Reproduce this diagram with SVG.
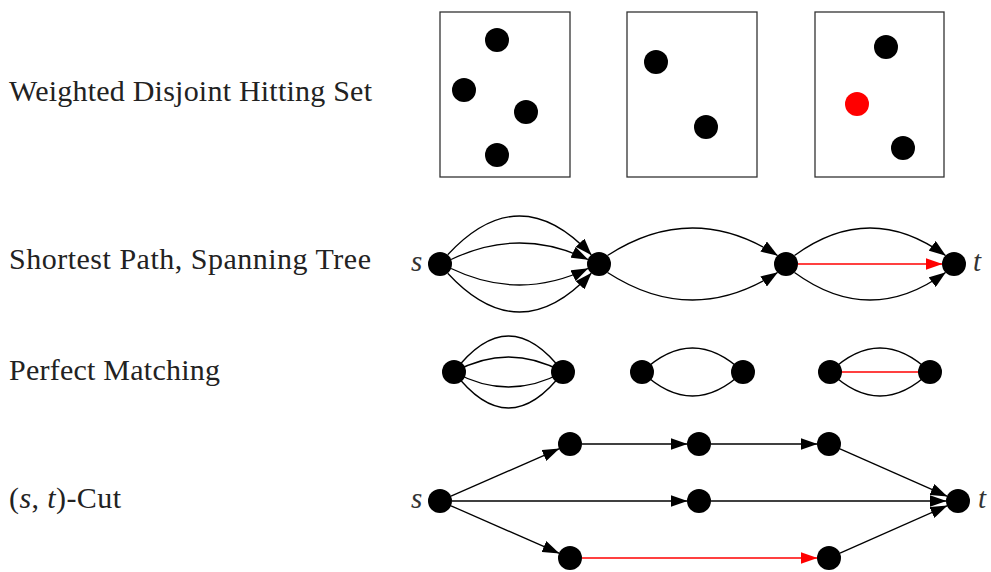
<svg xmlns="http://www.w3.org/2000/svg" width="991" height="572" viewBox="0 0 991 572">
<defs>
<style>
.lbl{font-family:"Liberation Serif","Times New Roman",serif;font-size:30px;fill:#222}
.var{font-family:"Liberation Serif","Times New Roman",serif;font-size:29px;font-style:italic;fill:#333}
.box{fill:#fff;stroke:#333;stroke-width:1.3}
.e{fill:none;stroke:#000;stroke-width:1.3}
.ea{fill:none;stroke:#000;stroke-width:1.3;marker-end:url(#ah)}
.er{fill:none;stroke:#f00;stroke-width:1.3}
.era{fill:none;stroke:#f00;stroke-width:1.3;marker-end:url(#ahr)}
.n{fill:#000}
</style>
<marker id="ah" viewBox="0 0 17 12" refX="16.5" refY="6" markerWidth="17" markerHeight="12" markerUnits="userSpaceOnUse" orient="auto"><path d="M0,0 L17,6 L0,12 z" fill="#000"/></marker>
<marker id="ahr" viewBox="0 0 17 12" refX="16.5" refY="6" markerWidth="17" markerHeight="12" markerUnits="userSpaceOnUse" orient="auto"><path d="M0,0 L17,6 L0,12 z" fill="#f00"/></marker>
</defs>
<rect width="991" height="572" fill="#fff"/>

<g id="labels">
<text class="lbl" x="9" y="101" textLength="363">Weighted Disjoint Hitting Set</text>
<text class="lbl" x="9" y="269" textLength="362">Shortest Path, Spanning Tree</text>
<text class="lbl" x="9" y="380" textLength="211">Perfect Matching</text>
<text class="lbl" x="9" y="508" textLength="112">(<tspan font-style="italic">s</tspan>, <tspan font-style="italic">t</tspan>)-Cut</text>
</g>

<g id="hitting-set">
<g id="set1"><rect class="box" x="440" y="12" width="130" height="165"/>
<circle class="n" cx="497" cy="40" r="12"/><circle class="n" cx="464" cy="90" r="12"/><circle class="n" cx="526" cy="112" r="12"/><circle class="n" cx="497" cy="155" r="12"/></g>
<g id="set2"><rect class="box" x="627" y="12" width="130" height="165"/>
<circle class="n" cx="656" cy="62" r="12"/><circle class="n" cx="706" cy="127" r="12"/></g>
<g id="set3"><rect class="box" x="815" y="12" width="129" height="165"/>
<circle class="n" cx="886" cy="47" r="12"/><circle cx="857" cy="104" r="12" fill="#f00"/><circle class="n" cx="903" cy="148" r="12"/></g>
</g>

<g id="connectors">
<!-- shortest path -->
<path class="ea" d="M447.7,254.8 Q519.5,177.2 591.3,254.8"/>
<path class="ea" d="M451.1,259.5 Q519.5,226.5 587.9,259.5"/>
<path class="ea" d="M451.1,268.5 Q519.5,301.5 587.9,268.5"/>
<path class="ea" d="M447.7,273.2 Q519.5,350.8 591.3,273.2"/>
<path class="ea" d="M607.5,255.5 Q692.5,200.5 777.5,255.5"/>
<path class="ea" d="M607.5,272.5 Q692.5,327.5 777.5,272.5"/>
<path class="ea" d="M794.5,255.5 Q870,200.5 945.5,255.5"/>
<path class="ea" d="M794.5,272.5 Q870,327.5 945.5,272.5"/>
<path class="era" d="M798,264 L942,264"/>
<!-- matching -->
<path class="e" d="M454,372 Q508.5,300 563,372"/>
<path class="e" d="M454,372 Q508.5,342 563,372"/>
<path class="e" d="M454,372 Q508.5,402 563,372"/>
<path class="e" d="M454,372 Q508.5,444 563,372"/>
<path class="e" d="M642,372 Q692.5,324 743,372"/>
<path class="e" d="M642,372 Q692.5,420 743,372"/>
<path class="e" d="M830,372 Q880,324 930,372"/>
<path class="e" d="M830,372 Q880,420 930,372"/>
<path class="er" d="M830,372 L930,372"/>
<!-- cut -->
<path class="ea" d="M451,496.2 L559,448.8"/>
<path class="ea" d="M582,444 L687,444"/>
<path class="ea" d="M711,444 L817,444"/>
<path class="ea" d="M840,448.8 L947,496.2"/>
<path class="ea" d="M452,501 L687,501"/>
<path class="ea" d="M711,501 L946,501"/>
<path class="ea" d="M451,505.8 L559,553.2"/>
<path class="era" d="M582,558 L817,558"/>
<path class="ea" d="M840,553.2 L947,505.8"/>
</g>

<g id="sp-nodes">
<g id="sp-s"><circle class="n" cx="440" cy="264" r="12"/><text class="var" x="411" y="271">s</text></g>
<g id="sp-a"><circle class="n" cx="599" cy="264" r="12"/></g>
<g id="sp-b"><circle class="n" cx="786" cy="264" r="12"/></g>
<g id="sp-t"><circle class="n" cx="954" cy="264" r="12"/><text class="var" x="973" y="271">t</text></g>
</g>

<g id="pm-nodes">
<g id="pm-1a"><circle class="n" cx="454" cy="372" r="12"/></g>
<g id="pm-1b"><circle class="n" cx="563" cy="372" r="12"/></g>
<g id="pm-2a"><circle class="n" cx="642" cy="372" r="12"/></g>
<g id="pm-2b"><circle class="n" cx="743" cy="372" r="12"/></g>
<g id="pm-3a"><circle class="n" cx="830" cy="372" r="12"/></g>
<g id="pm-3b"><circle class="n" cx="930" cy="372" r="12"/></g>
</g>

<g id="cut-nodes">
<g id="cut-s"><circle class="n" cx="440" cy="501" r="12"/><text class="var" x="411" y="508">s</text></g>
<g id="cut-a"><circle class="n" cx="570" cy="444" r="12"/></g>
<g id="cut-b"><circle class="n" cx="699" cy="444" r="12"/></g>
<g id="cut-c"><circle class="n" cx="829" cy="444" r="12"/></g>
<g id="cut-m"><circle class="n" cx="699" cy="501" r="12"/></g>
<g id="cut-d"><circle class="n" cx="570" cy="558" r="12"/></g>
<g id="cut-e"><circle class="n" cx="829" cy="558" r="12"/></g>
<g id="cut-t"><circle class="n" cx="958" cy="501" r="12"/><text class="var" x="978" y="508">t</text></g>
</g>
</svg>
